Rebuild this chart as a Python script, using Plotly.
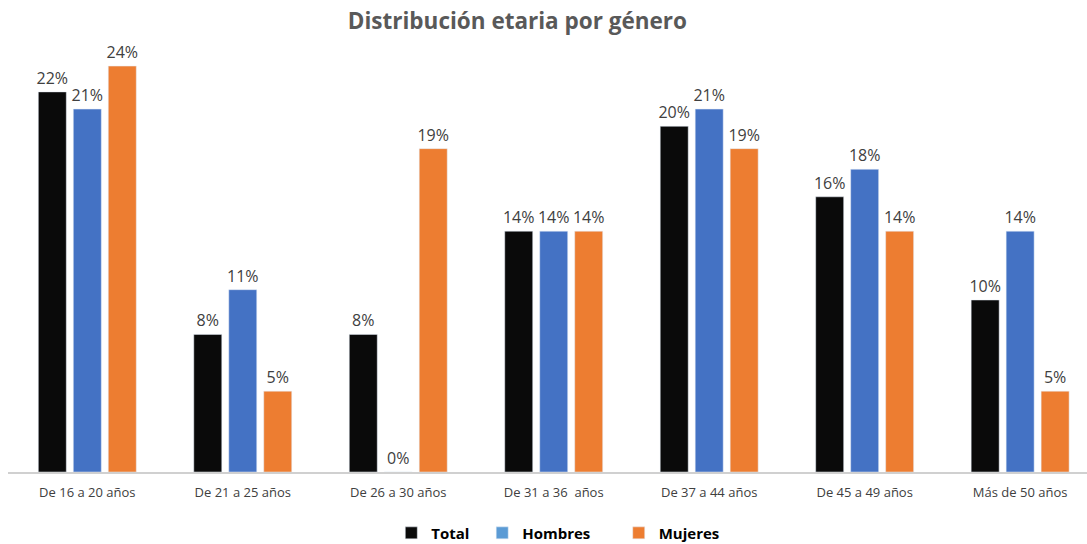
import plotly.graph_objects as go

categories = ["De 16 a 20 años", "De 21 a 25 años", "De 26 a 30 años", "De 31 a 36  años",
              "De 37 a 44 años", "De 45 a 49 años", "Más de 50 años"]
total = [0.221, 0.080, 0.080, 0.140, 0.201, 0.160, 0.100]
hombres = [0.211, 0.106, 0.0, 0.140, 0.211, 0.176, 0.140]
mujeres = [0.236, 0.047, 0.188, 0.140, 0.188, 0.140, 0.047]

series = [("Total", total, "#0a0a0a", "#0a0a0a", 2),
          ("Hombres", hombres, "#4472C4", "#5B9BD5", 6),
          ("Mujeres", mujeres, "#ED7D31", "#ED7D31", 0)]

fig = go.Figure()
for i, (name, vals, col, lcol, pad) in enumerate(series):
    fig.add_trace(go.Bar(
        x=categories, y=vals, name=name, marker_color=col, showlegend=False,
        offsetgroup=str(i),
        texttemplate="%{y:.0%}", textposition="outside", cliponaxis=False,
        constraintext="none",
        textfont=dict(size=16, color="#404040", family="Open Sans"),
        hoverinfo="skip"))
for i, (name, vals, col, lcol, pad) in enumerate(series):
    fig.add_trace(go.Bar(x=[categories[0]], y=[None],
                         name="<b>" + name + "</b>" + "&nbsp;" * pad,
                         offsetgroup=str(i), marker_color=lcol, showlegend=True,
                         hoverinfo="skip"))

fig.update_layout(
    width=1087, height=544,
    margin=dict(l=8, r=0, t=42, b=72, autoexpand=False),
    paper_bgcolor="white", plot_bgcolor="white",
    barmode="group", bargap=0.325, bargroupgap=0.2,
    title=dict(text="<b>Distribución etaria por género</b>", x=0.476, xanchor="center",
               y=0.962, yanchor="middle",
               font=dict(size=22.5, color="#595959", family="Open Sans")),
    xaxis=dict(range=[-0.51, 6.43], showline=True, linecolor="#D0D0D0", linewidth=1.5,
               ticks="", ticklabelstandoff=8,
               tickfont=dict(size=13, color="#404040", family="Open Sans"),
               showgrid=False),
    yaxis=dict(range=[0, 0.25], visible=False, showgrid=False),
    legend=dict(orientation="h", x=0.51, xanchor="center", yref="container", y=0.02,
                yanchor="middle",
                font=dict(size=15, color="#000000", family="Open Sans"),
                itemwidth=30, traceorder="normal"),
    font=dict(family="Open Sans"),
)

fig.write_html("out.html", config={"displayModeBar": False},
               post_script="document.body.style.margin='0';document.body.style.overflow='hidden';")
